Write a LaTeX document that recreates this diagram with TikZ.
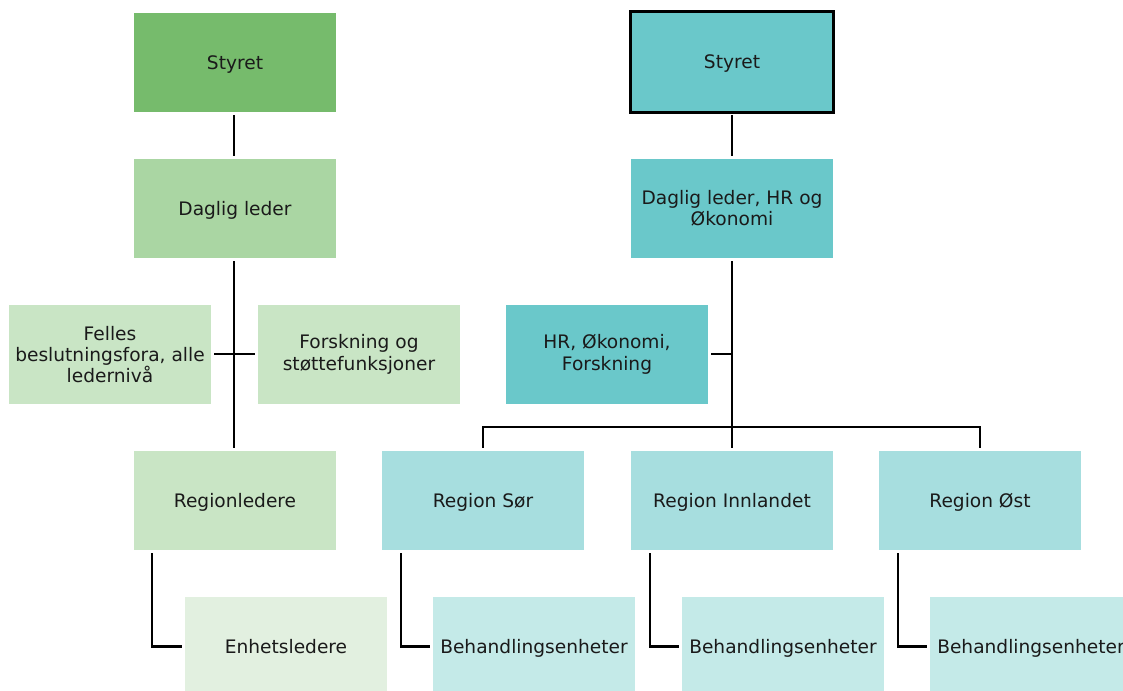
\documentclass[tikz,border=0pt]{standalone}
\usepackage{fontspec}
\setmainfont{DejaVu Sans}
\definecolor{gA}{HTML}{76BB6C}
\definecolor{gB}{HTML}{AAD6A3}
\definecolor{gC}{HTML}{C9E5C5}
\definecolor{gD}{HTML}{E2F0E0}
\definecolor{tA}{HTML}{6AC8CA}
\definecolor{tB}{HTML}{A7DEDF}
\definecolor{tC}{HTML}{C4EAE8}
\definecolor{txt}{HTML}{1A1A1A}
\tikzset{
  orgbox/.style={draw=none, minimum width=202pt, minimum height=99pt, inner sep=0pt, align=center, text=txt, font=\fontsize{18.6}{21.3}\selectfont},
  oneline/.style={text height=13.6pt, text depth=0pt},
  multiline/.style={yshift=1pt},
  conn/.style={line width=2.8pt, black},
}
\begin{document}
\begin{tikzpicture}[x=1pt,y=-1pt]
\useasboundingbox (0,0) rectangle (1123,690);
\clip (0,0) rectangle (1123,690);
% left tree
\node[orgbox, oneline, fill=gA] (ls) at (235,62.5) {Styret};
\node[orgbox, oneline, fill=gB] (ld) at (235,208.5) {Daglig leder};
\node[orgbox, fill=gC] (lf) at (110,354.5) {Felles\\beslutningsfora, alle\\ledernivå};
\node[orgbox, fill=gC] (lk) at (359,354.5) {Forskning og\\støttefunksjoner};
\node[orgbox, oneline, fill=gC] (lr) at (235,500.5) {Regionledere};
\node[orgbox, oneline, fill=gD] (le) at (286,646.5) {Enhetsledere};
% right tree
\node[orgbox, oneline, fill=tA, draw=black, line width=3pt, minimum width=203pt, minimum height=101pt] (rs) at (732,62) {Styret};
\node[orgbox, fill=tA] (rd) at (732,208.5) {Daglig leder, HR og\\Økonomi};
\node[orgbox, fill=tA] (rh) at (607,354.5) {HR, Økonomi,\\Forskning};
\node[orgbox, oneline, fill=tB] (r1) at (483,500.5) {Region Sør};
\node[orgbox, oneline, fill=tB] (r2) at (732,500.5) {Region Innlandet};
\node[orgbox, oneline, fill=tB] (r3) at (980,500.5) {Region Øst};
\node[orgbox, oneline, fill=tC] (b1) at (534,646.5) {Behandlingsenheter};
\node[orgbox, oneline, fill=tC] (b2) at (783,646.5) {Behandlingsenheter};
\node[orgbox, oneline, fill=tC] (b3) at (1031,646.5) {Behandlingsenheter};
% coordinates
\coordinate (lj) at (234,354);
\coordinate (rj) at (732,354);
\coordinate (bus) at (732,427);
% left connectors
\draw[conn] ([xshift=-1pt,yshift=-3pt]ls.south) -- ([xshift=-1pt,yshift=3pt]ld.north);
\draw[conn] ([xshift=-1pt,yshift=-3pt]ld.south) -- ([xshift=-1pt,yshift=3pt]lr.north);
\draw[conn] ([xshift=3pt]lf.east |- lj) -- ([xshift=-3pt]lk.west |- lj);
\draw[conn] ([xshift=-83pt,yshift=-3pt]lr.south) |- ([xshift=-3pt]le.west);
% right connectors
\draw[conn] ([yshift=-1pt]rs.south) -- ([yshift=3pt]rd.north);
\draw[conn] ([yshift=-3pt]rd.south) -- ([yshift=3pt]r2.north);
\draw[conn] ([xshift=3pt]rh.east |- rj) -- (rj);
\draw[conn] ([yshift=3pt]r1.north) |- (bus) -| ([yshift=3pt]r3.north);
\draw[conn] ([xshift=-82pt,yshift=-3pt]r1.south) |- ([xshift=-3pt]b1.west);
\draw[conn] ([xshift=-82pt,yshift=-3pt]r2.south) |- ([xshift=-3pt]b2.west);
\draw[conn] ([xshift=-82pt,yshift=-3pt]r3.south) |- ([xshift=-3pt]b3.west);
\end{tikzpicture}
\end{document}
